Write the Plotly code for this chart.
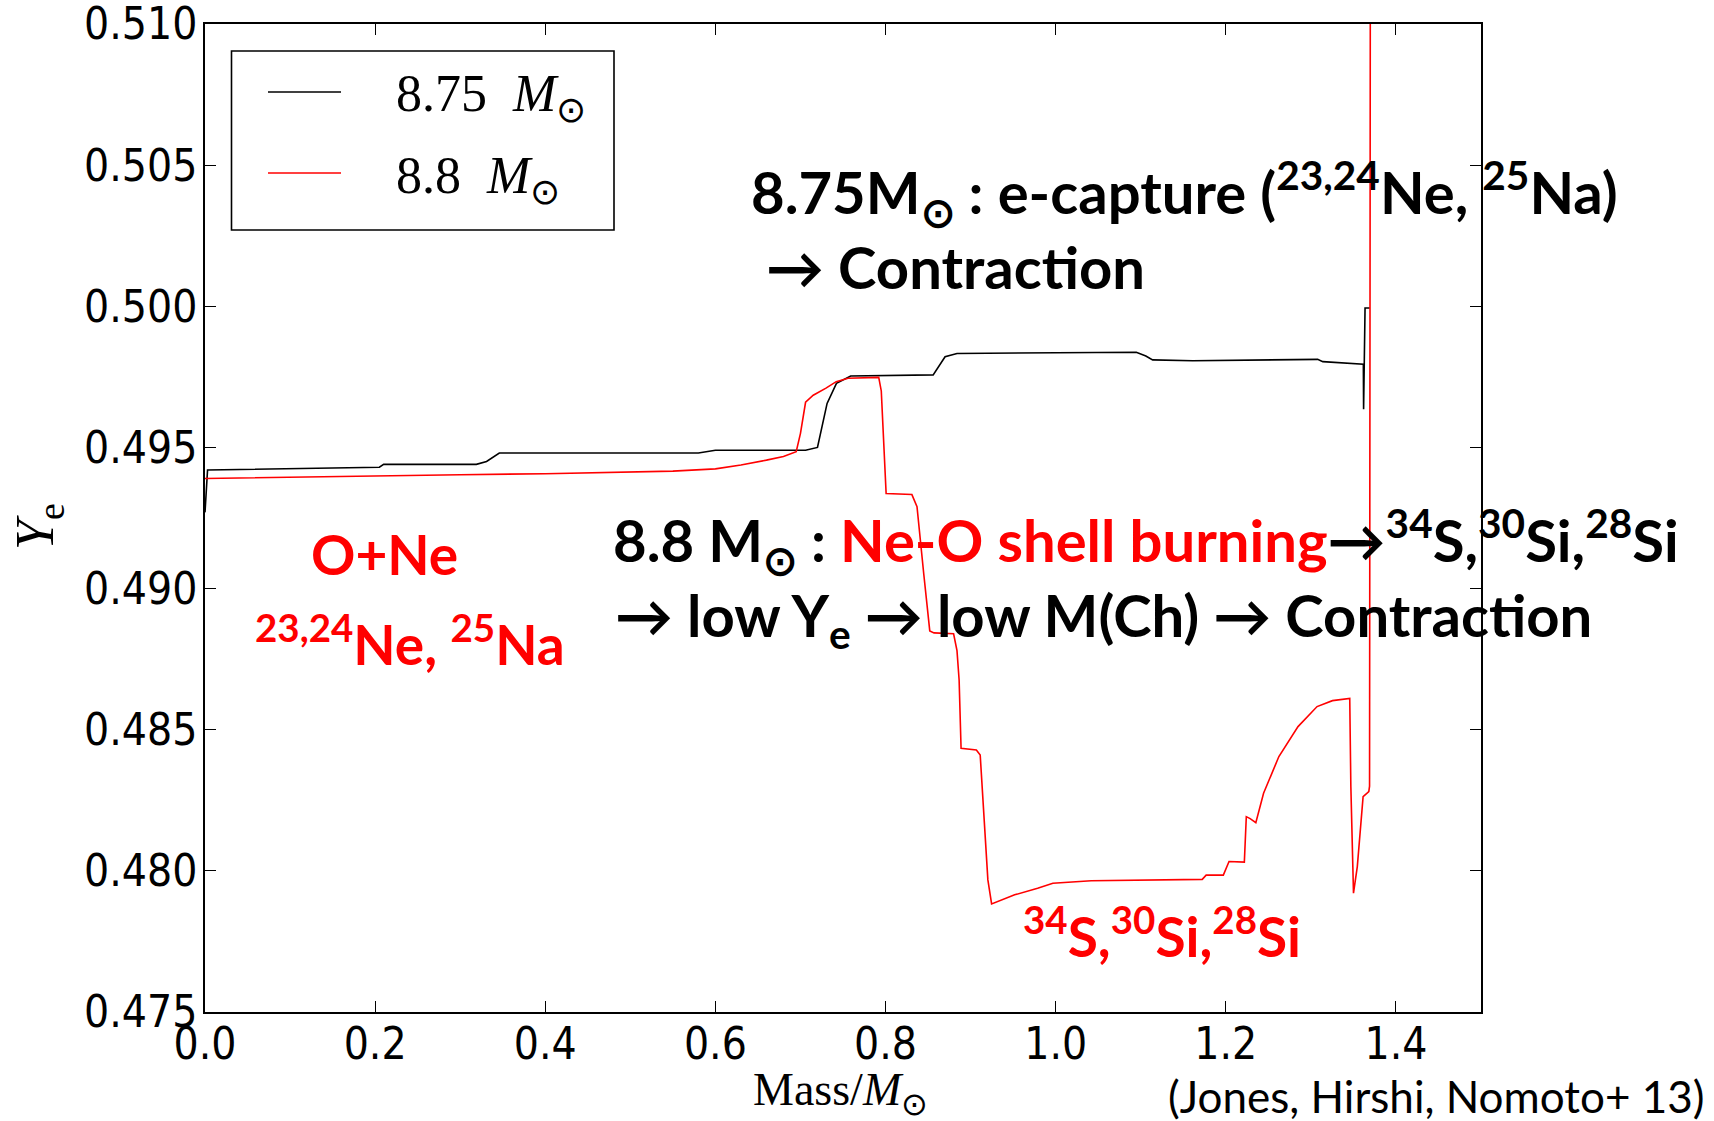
import plotly.graph_objects as go

# ---- data: electron fraction profiles vs enclosed mass ----
mass_875 = [0.0, 0.003, 0.205, 0.21, 0.319, 0.331, 0.346, 0.58, 0.60, 0.706, 0.720,
            0.7313, 0.7423, 0.759, 0.856, 0.870, 0.884, 1.0948, 1.106, 1.114, 1.161,
            1.308, 1.314, 1.3556, 1.3617, 1.3620, 1.3628, 1.3637, 1.3693]
ye_875 = [0.4927, 0.4942, 0.4943, 0.4944, 0.4944, 0.4945, 0.4948, 0.4948, 0.4949, 0.4949, 0.4950,
          0.49656, 0.49727, 0.49753, 0.49757, 0.49821, 0.49833, 0.49837, 0.49824, 0.49810, 0.49807,
          0.49812, 0.49804, 0.49798, 0.49795, 0.49635, 0.49795, 0.49994, 0.49994]

mass_88 = [0.0, 0.1, 0.2, 0.3, 0.4, 0.49, 0.55, 0.6, 0.63, 0.66, 0.68, 0.695, 0.700, 0.706,
           0.715, 0.73, 0.742, 0.756, 0.792, 0.795, 0.8007, 0.831, 0.837, 0.845, 0.852, 0.857,
           0.880, 0.884, 0.8865, 0.8888, 0.9068, 0.9113, 0.918, 0.9203, 0.9247, 0.9518, 0.9788,
           0.9967, 1.0418, 1.1723, 1.1769, 1.1971, 1.2038, 1.2218, 1.2241, 1.2286, 1.2353,
           1.2444, 1.2624, 1.2849, 1.3073, 1.3254, 1.3457, 1.3470, 1.3501, 1.3546, 1.3614,
           1.3681, 1.3690, 1.3700]
ye_88 = [0.49390, 0.49395, 0.49400, 0.49403, 0.49407, 0.49411, 0.49416, 0.49424, 0.49438, 0.49455,
         0.49468, 0.49485, 0.4955, 0.4966, 0.49685, 0.4971, 0.49733, 0.49745, 0.49748, 0.4970,
         0.49337, 0.49333, 0.4929, 0.4905, 0.4885, 0.48843, 0.48840, 0.4878, 0.48676, 0.48434,
         0.48428, 0.48410, 0.48109, 0.47968, 0.47883, 0.47915, 0.47938, 0.47956, 0.47965,
         0.47970, 0.47985, 0.47985, 0.48033, 0.48031, 0.48192, 0.48185, 0.48171, 0.48275,
         0.48405, 0.48511, 0.48582, 0.48603, 0.48611, 0.4830, 0.47921, 0.48015, 0.48263,
         0.48281, 0.4830, 0.5150]

series_names = ["8.75 <i>M</i><sub>⊙</sub>", "8.8 <i>M</i><sub>⊙</sub>"]
series_colors = ["#000000", "#ff0000"]

x_ticks = [0.0, 0.2, 0.4, 0.6, 0.8, 1.0, 1.2, 1.4]
x_labels = ["0.0", "0.2", "0.4", "0.6", "0.8", "1.0", "1.2", "1.4"]
y_ticks = [0.475, 0.480, 0.485, 0.490, 0.495, 0.500, 0.505, 0.510]
y_labels = ["0.475", "0.480", "0.485", "0.490", "0.495", "0.500", "0.505", "0.510"]

# ---- canvas geometry ----
W, H = 1714, 1121
ML, MR, MT, MB = 205, 233, 24, 109
PW, PH = W - ML - MR, H - MT - MB


def px(X):
    return (X - ML) / PW


def py(Y):
    return (H - MB - Y) / PH


fig = go.Figure()
fig.add_trace(go.Scatter(x=mass_875, y=ye_875, mode="lines", name=series_names[0],
                         line=dict(color=series_colors[0], width=1.6), showlegend=False))
fig.add_trace(go.Scatter(x=mass_88, y=ye_88, mode="lines", name=series_names[1],
                         line=dict(color=series_colors[1], width=1.6), showlegend=False))

axis_common = dict(showline=True, linecolor="black", linewidth=1.6, mirror="allticks",
                   ticks="inside", ticklen=11, tickwidth=1.3, tickcolor="black",
                   showgrid=False, zeroline=False, automargin=False,
                   ticklabeloverflow="allow",
                   tickfont=dict(family="DejaVu Sans Condensed, DejaVu Sans", size=44,
                                 color="black"))

fig.update_xaxes(range=[0, 1.5], tickvals=x_ticks, ticktext=x_labels,
                 ticklabelstandoff=-8, **axis_common)
fig.update_yaxes(range=[0.475, 0.510], tickvals=y_ticks, ticktext=y_labels,
                 ticklabelstandoff=-3, **axis_common)

shapes = []
annotations = []

# legend box drawn by hand
shapes.append(dict(type="rect", xref="paper", yref="paper",
                   x0=px(231.5), x1=px(614), y0=py(230), y1=py(51),
                   line=dict(color="black", width=1.6), fillcolor="white", layer="above"))
for name, color, ly in zip(series_names, series_colors, [92, 173]):
    shapes.append(dict(type="line", xref="paper", yref="paper",
                       x0=px(268), x1=px(341), y0=py(ly), y1=py(ly),
                       line=dict(color=color, width=1.6), layer="above"))
    annotations.append(dict(xref="paper", yref="paper", x=px(394), y=py(ly + 6),
                            xanchor="left", yanchor="middle", showarrow=False,
                            text=name.replace(" ", "  "),
                            font=dict(family="Liberation Serif", size=52, color="black")))

# axis titles
annotations.append(dict(xref="paper", yref="paper", x=px(38), y=py(527), textangle=-90,
                        xanchor="center", yanchor="middle", showarrow=False,
                        text="<i>Y</i><sub>e</sub>",
                        font=dict(family="Liberation Serif", size=54, color="black")))
annotations.append(dict(xref="paper", yref="paper", x=px(840), y=py(1093),
                        xanchor="center", yanchor="middle", showarrow=False,
                        text="Mass/<i>M</i><sub>⊙</sub>",
                        font=dict(family="Liberation Serif", size=46, color="black")))

big = dict(family="Lato", size=58, color="black")
red_big = dict(family="Lato", size=55, color="#ff0000")

annotations += [
    dict(x=px(749), y=py(193), xanchor="left",
         text="<b>8.75M<sub>⊙</sub> : e-capture (<sup>23,24</sup>Ne, <sup>25</sup>Na)</b>", font=big),
    dict(x=px(764), y=py(266), xanchor="left", text="<b>→ Contraction</b>", font=big),
    dict(x=px(611), y=py(541), xanchor="left",
         text="<b>8.8 M<sub>⊙</sub> : <span style='color:#ff0000'>Ne-O shell burning</span>"
              "→<sup>34</sup>S,<sup>30</sup>Si,<sup>28</sup>Si</b>", font=big),
    dict(x=px(613), y=py(619), xanchor="left",
         text="<b>→ low Y<sub>e</sub> → low M(Ch) → Contraction</b>", font=big),
    dict(x=px(384), y=py(554), xanchor="center", text="<b>O+Ne</b>", font=red_big),
    dict(x=px(410), y=py(640), xanchor="center",
         text="<b><sup>23,24</sup>Ne, <sup>25</sup>Na</b>", font=red_big),
    dict(x=px(1162), y=py(932), xanchor="center",
         text="<b><sup>34</sup>S,<sup>30</sup>Si,<sup>28</sup>Si</b>", font=red_big),
    dict(x=px(1707), y=py(1096), xanchor="right",
         text="(Jones, Hirshi, Nomoto+ 13)", font=dict(family="Lato", size=44, color="black")),
]
for a in annotations:
    a.setdefault("xref", "paper")
    a.setdefault("yref", "paper")
    a.setdefault("yanchor", "middle")
    a.setdefault("showarrow", False)

fig.update_layout(width=W, height=H, margin=dict(l=ML, r=MR, t=MT, b=MB, autoexpand=False),
                  plot_bgcolor="white", paper_bgcolor="white",
                  shapes=shapes, annotations=annotations, showlegend=False)

fig.write_html("out.html")
